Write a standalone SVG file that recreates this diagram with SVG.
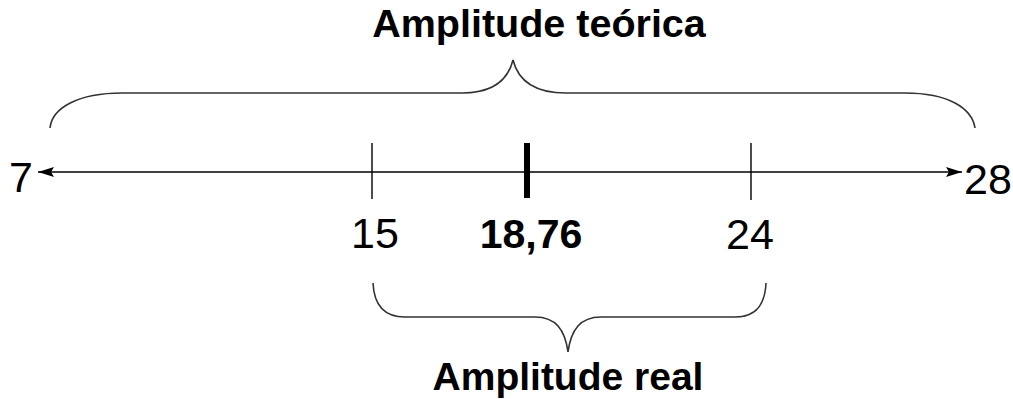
<svg xmlns="http://www.w3.org/2000/svg" width="1013" height="399" viewBox="0 0 1013 399">
<defs>
<style>
.num{font-family:"Liberation Sans",Arial,sans-serif;font-size:43px;fill:#000;text-anchor:middle}
.lbl{font-family:"Liberation Sans",Arial,sans-serif;font-size:39px;font-weight:bold;fill:#000;text-anchor:middle}
.brace{fill:none;stroke:#333;stroke-width:1.6}
.tick{stroke:#000;stroke-width:1.4}
</style>
<marker id="ah" viewBox="0 0 16 10" refX="16" refY="5" markerWidth="16" markerHeight="10" markerUnits="userSpaceOnUse" orient="auto-start-reverse">
<path d="M0,0 L16,5 L0,10 L3,5 Z" fill="#000"/>
</marker>
</defs>
<rect width="1013" height="399" fill="#fff"/>
<g id="connectors">
<line x1="38" y1="172" x2="962" y2="172" stroke="#000" stroke-width="1.5" marker-start="url(#ah)" marker-end="url(#ah)"/>
<line class="tick" x1="372" y1="143" x2="372" y2="199"/>
<line class="tick" x1="751" y1="143" x2="751" y2="200"/>
<line x1="527" y1="143" x2="527" y2="198" stroke="#000" stroke-width="6"/>
</g>
<g id="brace-top">
<path class="brace" d="M50,128 C52,108 78,93 122,93 L462,93 C492,93 508,80 513,60 C518,80 534,93 566,93 L905,93 C948,93 972,108 975,128"/>
<text class="lbl" x="539" y="37" style="font-size:39.5px">Amplitude teórica</text>
</g>
<g id="brace-bottom">
<path class="brace" d="M373,283 C374,305 384,317 405,317 L535,317 C556,317 565,330 568,352 C571,330 580,317 601,317 L735,317 C756,317 765,305 766,283"/>
<text class="lbl" x="568" y="390">Amplitude real</text>
</g>
<g id="label-7"><text class="num" x="21" y="192">7</text></g>
<g id="label-28"><text class="num" x="988" y="194">28</text></g>
<g id="label-15"><text class="num" x="375" y="248">15</text></g>
<g id="label-24"><text class="num" x="750" y="249">24</text></g>
<g id="label-1876"><text class="num" x="531" y="248" style="font-weight:bold;font-size:41px">18,76</text></g>
</svg>
